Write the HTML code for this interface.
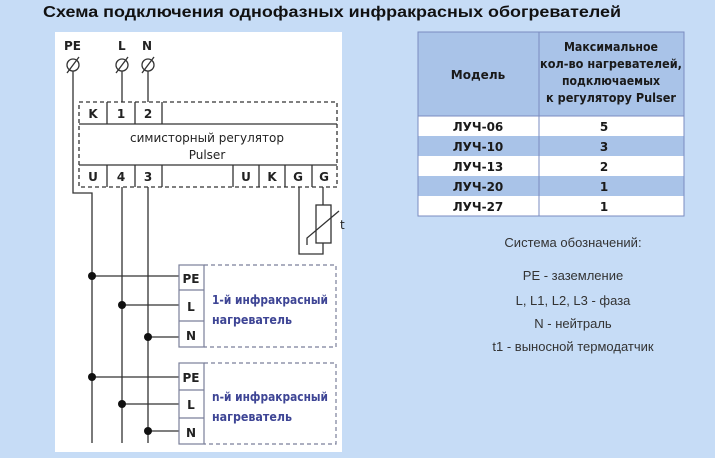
<!DOCTYPE html>
<html><head><meta charset="utf-8"><style>
html,body{margin:0;padding:0;background:#c6dcf6;}
svg{display:block}
</style></head><body>
<svg width="715" height="458" viewBox="0 0 715 458" xmlns="http://www.w3.org/2000/svg" font-family="Liberation Sans, DejaVu Sans, sans-serif">
<rect width="715" height="458" fill="#c6dcf6"/>
<text x="43" y="17" font-size="16" font-weight="bold" fill="#111" textLength="578" lengthAdjust="spacingAndGlyphs">Схема подключения однофазных инфракрасных обогревателей</text>
<rect x="55" y="32" width="287" height="420" fill="#fff"/>
<g font-family="DejaVu Sans, sans-serif" font-size="12" fill="#222" font-weight="bold">
<text x="64" y="50">PE</text><text x="118" y="50">L</text><text x="142" y="50">N</text>
</g>
<g stroke="#333" stroke-width="1.3" fill="none">
<circle cx="73" cy="65" r="6"/><line x1="67" y1="73" x2="79" y2="57"/>
<circle cx="122" cy="65" r="6"/><line x1="116" y1="73" x2="128" y2="57"/>
<circle cx="148" cy="65" r="6"/><line x1="142" y1="73" x2="154" y2="57"/>
<line x1="122" y1="71" x2="122" y2="102"/><line x1="148" y1="71" x2="148" y2="102"/>
<polyline points="73,71 73,193 92,193 92,443"/>
<line x1="122" y1="187" x2="122" y2="443"/><line x1="148" y1="187" x2="148" y2="443"/>
<rect x="79" y="102" width="258" height="85" stroke-dasharray="4,3"/>
<line x1="79" y1="124" x2="337" y2="124"/><line x1="79" y1="165" x2="337" y2="165"/>
<line x1="107" y1="102" x2="107" y2="124"/><line x1="135" y1="102" x2="135" y2="124"/><line x1="162" y1="102" x2="162" y2="124"/>
<line x1="107" y1="165" x2="107" y2="187"/><line x1="135" y1="165" x2="135" y2="187"/><line x1="162" y1="165" x2="162" y2="187"/>
<line x1="233" y1="165" x2="233" y2="187"/><line x1="259" y1="165" x2="259" y2="187"/><line x1="285" y1="165" x2="285" y2="187"/><line x1="312" y1="165" x2="312" y2="187"/>
<polyline points="299,187 299,254 323,254 323,243"/>
<line x1="323" y1="187" x2="323" y2="205"/>
<rect x="316" y="205" width="15" height="38"/>
<polyline points="307,245 307,238 339,211"/>
<line x1="92" y1="276" x2="179" y2="276"/><line x1="122" y1="305" x2="179" y2="305"/><line x1="148" y1="337" x2="179" y2="337"/>
<line x1="92" y1="377" x2="179" y2="377"/><line x1="122" y1="404" x2="179" y2="404"/><line x1="148" y1="431" x2="179" y2="431"/>
</g>
<g stroke="#7a7f9a" stroke-width="1.2" fill="none">
<rect x="179" y="265" width="25" height="82"/><line x1="179" y1="290" x2="204" y2="290"/><line x1="179" y1="321" x2="204" y2="321"/>
<polyline points="204,265 336,265 336,347 204,347" stroke-dasharray="4,3"/>
<rect x="179" y="363" width="25" height="81"/><line x1="179" y1="390" x2="204" y2="390"/><line x1="179" y1="418" x2="204" y2="418"/>
<polyline points="204,363 336,363 336,444 204,444" stroke-dasharray="4,3"/>
</g>
<g fill="#111">
<circle cx="92" cy="276" r="4"/><circle cx="122" cy="305" r="4"/><circle cx="148" cy="337" r="4"/>
<circle cx="92" cy="377" r="4"/><circle cx="122" cy="404" r="4"/><circle cx="148" cy="431" r="4"/>
</g>
<g font-family="DejaVu Sans, sans-serif" font-size="12" fill="#222" text-anchor="middle" font-weight="bold">
<text x="93" y="118">K</text><text x="121" y="118">1</text><text x="148" y="118">2</text>
<text x="93" y="181">U</text><text x="121" y="181">4</text><text x="148" y="181">3</text>
<text x="246" y="181">U</text><text x="272" y="181">K</text><text x="298" y="181">G</text><text x="324" y="181">G</text>
<text x="207" y="142" font-weight="normal">симисторный регулятор</text>
<text x="207" y="159" font-weight="normal">Pulser</text>
<text x="191" y="283">PE</text><text x="191" y="311">L</text><text x="191" y="340">N</text>
<text x="191" y="382">PE</text><text x="191" y="409">L</text><text x="191" y="437">N</text>
<text x="340" y="229" text-anchor="start" font-weight="normal">t</text>
</g>
<g font-family="DejaVu Sans, sans-serif" font-size="12" fill="#3e4595" font-weight="bold" lengthAdjust="spacingAndGlyphs">
<text x="212" y="304" textLength="116" lengthAdjust="spacingAndGlyphs">1-й инфракрасный</text><text x="212" y="324" textLength="80" lengthAdjust="spacingAndGlyphs">нагреватель</text>
<text x="212" y="401" textLength="116" lengthAdjust="spacingAndGlyphs">n-й инфракрасный</text><text x="212" y="421" textLength="80" lengthAdjust="spacingAndGlyphs">нагреватель</text>
</g>
<g>
<rect x="418" y="32" width="266" height="184" fill="#fff" stroke="#7a8bc0"/>
<rect x="418" y="32" width="266" height="84" fill="#a9c3e8"/>
<rect x="418" y="136" width="266" height="20" fill="#a9c3e8"/>
<rect x="418" y="176" width="266" height="20" fill="#a9c3e8"/>
<g stroke="#7a8bc0" fill="none">
<rect x="418" y="32" width="266" height="184"/>
<line x1="539" y1="32" x2="539" y2="216"/>
<line x1="418" y1="116" x2="684" y2="116"/>
</g>
<g font-family="DejaVu Sans, sans-serif" font-size="12" fill="#1a1a1a" text-anchor="middle" font-weight="bold">
<text x="478" y="79">Модель</text>
<text x="611" y="51" textLength="94" lengthAdjust="spacingAndGlyphs">Максимальное</text>
<text x="611" y="68" textLength="142" lengthAdjust="spacingAndGlyphs">кол-во нагревателей,</text>
<text x="611" y="85" textLength="98" lengthAdjust="spacingAndGlyphs">подключаемых</text>
<text x="611" y="102" textLength="130" lengthAdjust="spacingAndGlyphs">к регулятору Pulser</text>
<text x="478" y="131">ЛУЧ-06</text><text x="604" y="131">5</text>
<text x="478" y="151">ЛУЧ-10</text><text x="604" y="151">3</text>
<text x="478" y="171">ЛУЧ-13</text><text x="604" y="171">2</text>
<text x="478" y="191">ЛУЧ-20</text><text x="604" y="191">1</text>
<text x="478" y="211">ЛУЧ-27</text><text x="604" y="211">1</text>
</g>
</g>
<g font-size="13" fill="#333" text-anchor="middle">
<text x="573" y="247">Система обозначений:</text>
<text x="573" y="280">PE - заземление</text>
<text x="573" y="305">L, L1, L2, L3 - фаза</text>
<text x="573" y="328">N - нейтраль</text>
<text x="573" y="351">t1 - выносной термодатчик</text>
</g>
</svg>
</body></html>
